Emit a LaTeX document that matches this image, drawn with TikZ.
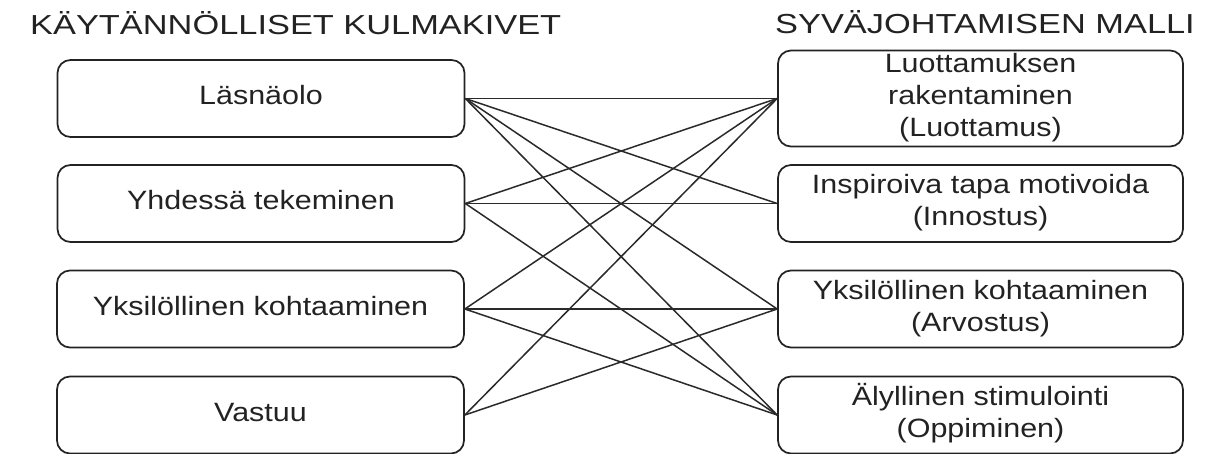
\documentclass[tikz,border=0pt]{standalone}
\usepackage{fontspec}
\setmainfont{Liberation Sans}
\usepackage{graphicx}
\definecolor{ink}{HTML}{222222}
\definecolor{edge}{HTML}{2a2a2a}
\newcommand{\boxtxt}[1]{\scalebox{1.15}[1]{\fontsize{26.5}{32}\selectfont\begin{tabular}{@{}c@{}}#1\end{tabular}}}
\newcommand{\ttltxt}[1]{\scalebox{1.25}[1]{\fontsize{27.5}{32}\selectfont #1}}
\begin{document}
\begin{tikzpicture}[x=1pt,y=-1pt,
  cardbox/.style={draw=ink, line width=1.7pt, rounded corners=13pt, text=ink,
    minimum height=77pt, inner sep=0pt, anchor=center},
  leftbox/.style={cardbox, minimum width=407pt},
  rightbox/.style={cardbox, minimum width=405pt},
  ttl/.style={inner sep=0pt, text=ink},
  conn/.style={draw=edge, line width=1.5pt}]
\useasboundingbox (0,0) rectangle (1211,454);
\node[ttl, anchor=base west] (tl) at (30,35) {\ttltxt{KÄYTÄNNÖLLISET KULMAKIVET}};
\node[ttl, anchor=base east] (tr) at (1195,34) {\ttltxt{SYVÄJOHTAMISEN MALLI}};
\node[leftbox] (L1) at (261,98.5) {\boxtxt{Läsnäolo}};
\node[leftbox] (L2) at (261,203.5) {\boxtxt{Yhdessä tekeminen}};
\node[leftbox] (L3) at (260.5,309) {\boxtxt{Yksilöllinen kohtaaminen}};
\node[leftbox] (L4) at (260.5,415) {\boxtxt{Vastuu}};
\node[rightbox] (R1) at (980.5,98.5) {\boxtxt{Luottamuksen\\rakentaminen\\(Luottamus)}};
\node[rightbox] (R2) at (980.5,203.5) {\boxtxt{Inspiroiva tapa motivoida\\(Innostus)}};
\node[rightbox] (R3) at (980.5,309) {\boxtxt{Yksilöllinen kohtaaminen\\(Arvostus)}};
\node[rightbox] (R4) at (980.5,415) {\boxtxt{Älyllinen stimulointi\\(Oppiminen)}};
\foreach \a/\b in {L1/R1,L1/R2,L1/R3,L1/R4,L2/R1,L2/R2,L2/R4,L3/R1,L3/R3,L3/R4,L4/R1,L4/R3}
  \draw[conn] (\a.east) -- (\b.west);
\end{tikzpicture}
\end{document}
